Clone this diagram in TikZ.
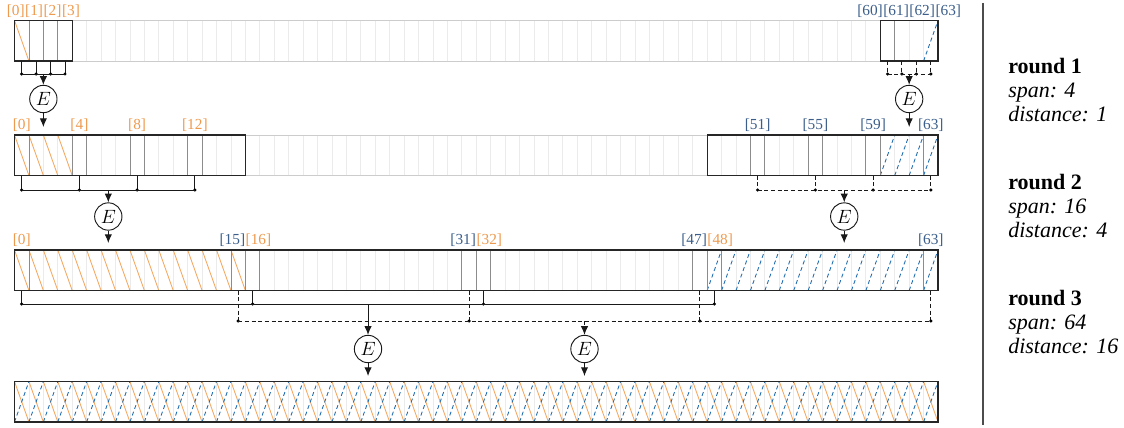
\documentclass[tikz,border=0pt]{standalone}
\usepackage{fontspec}
\setmainfont{Liberation Serif}
\usetikzlibrary{arrows.meta,calc,positioning}
\usepackage{xcolor}
\definecolor{fwcolor}{HTML}{F4A860}
\definecolor{bwcolor}{HTML}{1F6CB0}
\definecolor{fwtext}{HTML}{EE9A4E}
\definecolor{bwtext}{HTML}{3B5E8A}
\def\xo{14.5}
\def\cellw{14.43}
\def\rowh{40.5}
\tikzset{
  gridline/.style={draw=black!8, line width=0.6pt},
  markline/.style={draw=black!45, line width=0.6pt},
  segline/.style={draw=black!85, line width=0.9pt},
  fwhatch/.style={draw=fwcolor, line width=0.65pt},
  bwhatch/.style={draw=bwcolor, line width=0.65pt, dash pattern=on 3pt off 2.2pt},
  idx/.style={anchor=south, inner xsep=0pt, inner ysep=0pt, font=\fontsize{11.5}{12}\selectfont},
  enc/.style={circle, draw=black!90, line width=0.7pt, minimum size=20.5pt, inner sep=0pt, font=\fontsize{15.5}{15.5}\selectfont},
  wire/.style={draw=black!90, line width=0.7pt},
  dwire/.style={wire, dash pattern=on 3pt off 2pt},
  flow/.style={wire, -{Latex[length=6.5pt,width=5.5pt]}},
  dflow/.style={flow, dash pattern=on 3pt off 2pt},
  roundtxt/.style={anchor=base west, inner sep=0pt, font=\fontsize{16.5}{18}\selectfont},
}
% empty row of 64 cells, top at #1
\newcommand{\cellrow}[1]{
  \foreach \i in {1,...,63}
    \draw[gridline] ({\xo+\i*\cellw},#1) -- ++(0,\rowh);
  \draw[gridline, draw=black!20] (\xo,#1) rectangle ++({64*\cellw},\rowh);
}
% darker borders round the cells #2
\newcommand{\markcells}[2]{
  \foreach \i in {#2}
    \draw[markline] ({\xo+\i*\cellw},#1) -- ++(0,\rowh)
      ({\xo+(\i+1)*\cellw},#1) -- ++(0,\rowh);
}
\newcommand{\fwcells}[3]{
  \foreach \i in {#2,...,#3}
    \draw[fwhatch] ({\xo+\i*\cellw},#1) -- ++(\cellw,\rowh);
}
\newcommand{\bwcells}[3]{
  \foreach \i in {#2,...,#3}
    \draw[bwhatch] ({\xo+\i*\cellw},{#1+\rowh}) -- ++(\cellw,-\rowh);
}
\newcommand{\segment}[3]{
  \draw[segline] ({\xo+#2*\cellw},#1) rectangle ({\xo+(#3+1)*\cellw},{#1+\rowh});
}
% points under the cells #4 of the row at #2, bar at #3
\newcommand{\taps}[4]{
  \foreach \c in {#4} {
    \coordinate (#1t\c) at ({\xo+(\c+0.5)*\cellw},{#2+\rowh});
    \coordinate (#1b\c) at ({\xo+(\c+0.5)*\cellw},#3);
  }
}
\newcommand{\tapwires}[3]{
  \foreach \c in {#2} {
    \draw[#3] (#1t\c) -- (#1b\c);
    \fill (#1b\c) circle (1.3pt);
  }
}

\begin{document}
\begin{tikzpicture}[x=0.75pt, y=-0.75pt]
    \useasboundingbox (0,0) rectangle (1124,428);

    % round 1
    \cellrow{20.5}
    \fwcells{20.5}{0}{0}
    \bwcells{20.5}{63}{63}
    \markcells{20.5}{0,...,3,60,...,63}
    \segment{20.5}{0}{3}
    \segment{20.5}{60}{63}
    \coordinate (la) at ({\xo+2*\cellw},17.5);
    \node[idx, text=fwtext, anchor=south east] (a1) at (la) {[1]};
    \node[idx, text=fwtext, anchor=south west] (a2) at (la) {[2]};
    \node[idx, text=fwtext, left=0pt of a1] (a0) {[0]};
    \node[idx, text=fwtext, right=0pt of a2] (a3) {[3]};
    \coordinate (lb) at ({\xo+62*\cellw},17.5);
    \node[idx, text=bwtext, anchor=south east] (a61) at (lb) {[61]};
    \node[idx, text=bwtext, anchor=south west] (a62) at (lb) {[62]};
    \node[idx, text=bwtext, left=0pt of a61] (a60) {[60]};
    \node[idx, text=bwtext, right=0pt of a62] (a63) {[63]};

    \taps{p}{20.5}{74}{0,...,3}
    \taps{q}{20.5}{74}{60,...,63}
    \tapwires{p}{0,...,3}{wire}
    \tapwires{q}{60,...,63}{dwire}
    \draw[wire] (pb0) -- (pb3);
    \draw[dwire] (qb60) -- (qb63);
    \coordinate (pm) at ($(pb0)!0.5!(pb3)$);
    \coordinate (qm) at ($(qb60)!0.5!(qb63)$);
    \node[enc] (e1) at ($(pm)+(0,25)$) {$E$};
    \node[enc] (e2) at ($(qm)+(0,25)$) {$E$};
    \coordinate (e1o) at ($(pm)+(0,53)$);
    \coordinate (e2o) at ($(qm)+(0,53)$);
    \draw[flow] (pm) -- (e1);
    \draw[flow] (e1) -- (e1o);
    \draw[dflow] (qm) -- (e2);
    \draw[flow] (e2) -- (e2o);

    % round 2
    \cellrow{135}
    \fwcells{135}{0}{3}
    \bwcells{135}{60}{63}
    \markcells{135}{0,4,8,12,51,55,59,63}
    \segment{135}{0}{15}
    \segment{135}{48}{63}
    \foreach \c in {0,4,8,12}
      \node[idx, text=fwtext] (b\c) at ({\xo+(\c+0.5)*\cellw},132) {[\c]};
    \foreach \c in {51,55,59,63}
      \node[idx, text=bwtext] (b\c) at ({\xo+(\c+0.5)*\cellw},132) {[\c]};

    \taps{r}{135}{190}{0,4,8,12}
    \taps{s}{135}{190}{51,55,59,63}
    \tapwires{r}{0,4,8,12}{wire}
    \tapwires{s}{51,55,59,63}{dwire}
    \draw[wire] (rb0) -- (rb12);
    \draw[dwire] (sb51) -- (sb63);
    \coordinate (rm) at ($(rb0)!0.5!(rb12)$);
    \coordinate (sm) at ($(sb51)!0.5!(sb63)$);
    \node[enc] (e3) at ($(rm)+(0,26.5)$) {$E$};
    \node[enc] (e4) at ($(sm)+(0,26.5)$) {$E$};
    \coordinate (e3o) at ($(rm)+(0,53)$);
    \coordinate (e4o) at ($(sm)+(0,53)$);
    \draw[flow] (rm) -- (e3);
    \draw[flow] (e3) -- (e3o);
    \draw[dflow] (sm) -- (e4);
    \draw[flow] (e4) -- (e4o);

    % round 3
    \cellrow{250}
    \fwcells{250}{0}{15}
    \bwcells{250}{48}{63}
    \markcells{250}{0,15,16,31,32,47,48,63}
    \segment{250}{0}{63}
    \node[idx, text=fwtext] (c0) at ({\xo+0.5*\cellw},247) {[0]};
    \node[idx, text=bwtext] (c63) at ({\xo+63.5*\cellw},247) {[63]};
    \foreach \c/\d in {15/16,31/32,47/48} {
      \coordinate (cc\d) at ({\xo+\d*\cellw},247);
      \node[idx, text=bwtext, anchor=south east] (c\c) at (cc\d) {[\c]};
      \node[idx, text=fwtext, anchor=south west] (c\d) at (cc\d) {[\d]};
    }

    \taps{u}{250}{304}{0,16,32,48}
    \taps{v}{250}{321}{15,31,47,63}
    \tapwires{u}{0,16,32,48}{wire}
    \tapwires{v}{15,31,47,63}{dwire}
    \draw[wire] (ub0) -- (ub48);
    \draw[dwire] (vb15) -- (vb63);
    \coordinate (um) at ($(ub0)!0.5!(ub48)$);
    \coordinate (vm) at ($(vb15)!0.5!(vb63)$);
    \node[enc] (e5) at ($(um)+(0,45)$) {$E$};
    \node[enc] (e6) at ($(vm)+(0,28)$) {$E$};
    \coordinate (e5o) at ($(um)+(0,72)$);
    \coordinate (e6o) at ($(vm)+(0,55)$);
    \draw[flow] (um) -- (e5);
    \draw[flow] (e5) -- (e5o);
    \draw[dflow] (vm) -- (e6);
    \draw[flow] (e6) -- (e6o);

    % result
    \cellrow{381.5}
    \fwcells{381.5}{0}{63}
    \bwcells{381.5}{0}{63}
    \segment{381.5}{0}{63}

    % legend
    \coordinate (dtop) at (983,3);
    \coordinate (dbot) at (983,425);
    \draw[draw=black!70, line width=0.9pt] (dtop) -- (dbot);
    \node[roundtxt] (t1) at (1008,74) {\textbf{round 1}};
    \node[roundtxt] (t1s) at (1008,98) {\textit{span: 4}};
    \node[roundtxt] (t1d) at (1008,122) {\textit{distance: 1}};
    \node[roundtxt] (t2) at (1008,189.5) {\textbf{round 2}};
    \node[roundtxt] (t2s) at (1008,213.5) {\textit{span: 16}};
    \node[roundtxt] (t2d) at (1008,237.5) {\textit{distance: 4}};
    \node[roundtxt] (t3) at (1008,305) {\textbf{round 3}};
    \node[roundtxt] (t3s) at (1008,329) {\textit{span: 64}};
    \node[roundtxt] (t3d) at (1008,353) {\textit{distance: 16}};
\end{tikzpicture}
\end{document}
